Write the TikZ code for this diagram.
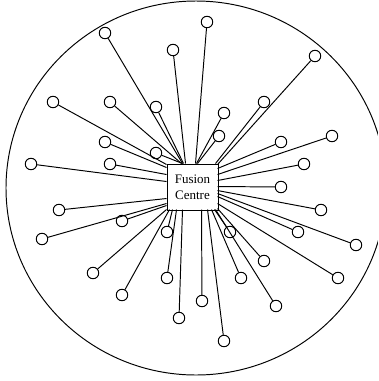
\documentclass[tikz,border=0pt]{standalone}
\usepackage{fontspec}
\setmainfont{Liberation Serif}
\usetikzlibrary{calc}
\tikzset{
  dot/.style={circle,draw,minimum size=2.3mm,inner sep=0pt},
  hub/.style={rectangle,draw,minimum width=10.2mm,minimum height=9.2mm,inner sep=0pt,align=center,font=\fontsize{7.4}{9.3}\selectfont}
}
\newcommand\spoke[3]{\draw (#1) -- ($(fc.north west)+(#2,#3)$);}
\begin{document}
\begin{tikzpicture}[x=0.2mm,y=-0.2mm,line width=0.55pt]
\useasboundingbox (0,0) rectangle (378,381);
\clip (0,0) rectangle (378,381);
\draw (196,188) ellipse [x radius=38mm, y radius=37.4mm];
\node[hub] (fc) at (192.5,187) {Fusion\\Centre};
% top-left
\node[dot] (a1) at (105,33) {};
\node[dot] (a2) at (173,50) {};
\node[dot] (a3) at (156,107) {};
\node[dot] (a4) at (110,102) {};
\node[dot] (a5) at (156,153) {};
\node[dot] (a6) at (53,102) {};
\node[dot] (a7) at (105,142) {};
\node[dot] (a8) at (110,164) {};
\node[dot] (a9) at (31,164) {};
% top-right
\node[dot] (b1) at (207,22) {};
\node[dot] (b2) at (224,113) {};
\node[dot] (b3) at (219,136) {};
\node[dot] (b4) at (264,102) {};
\node[dot] (b5) at (315,56) {};
% right
\node[dot] (c1) at (281,142) {};
\node[dot] (c2) at (332,136) {};
\node[dot] (c3) at (304,164) {};
\node[dot] (c4) at (281,187) {};
\node[dot] (c5) at (321,210) {};
\node[dot] (c6) at (356,245) {};
\node[dot] (c7) at (298,232) {};
\node[dot] (c8) at (338,278) {};
\node[dot] (c9) at (264,261) {};
% bottom
\node[dot] (d1) at (230,232) {};
\node[dot] (d2) at (276,306) {};
\node[dot] (d3) at (241,278) {};
\node[dot] (d4) at (224,341) {};
\node[dot] (d5) at (202,301) {};
\node[dot] (d6) at (179,318) {};
\node[dot] (d7) at (167,278) {};
\node[dot] (d8) at (167,232) {};
\node[dot] (d9) at (122,295) {};
\node[dot] (d10) at (93,273) {};
% left lower
\node[dot] (e1) at (122,221) {};
\node[dot] (e2) at (42,239) {};
\node[dot] (e3) at (59,210) {};
% spokes: offsets from box top-left (167,164)
\spoke{a1}{16}{0}
\spoke{a2}{19}{0}
\spoke{a3}{17}{0}
\spoke{a4}{15}{0}
\spoke{a5}{16}{0}
\spoke{a6}{0}{1}
\spoke{a7}{0}{4}
\spoke{a8}{0}{11}
\spoke{a9}{0}{18}
\spoke{b1}{29}{0}
\spoke{b2}{30}{0}
\spoke{b3}{31}{0}
\spoke{b4}{49}{0}
\spoke{b5}{51}{1}
\spoke{c1}{51}{5}
\spoke{c2}{51}{11}
\spoke{c3}{51}{17}
\spoke{c4}{51}{23}
\spoke{c5}{51}{27}
\spoke{c6}{51}{30}
\spoke{c7}{51}{33}
\spoke{c8}{51}{40}
\spoke{c9}{51}{45}
\spoke{d1}{48}{46}
\spoke{d2}{49}{46}
\spoke{d3}{45}{46}
\spoke{d4}{41}{46}
\spoke{d5}{35}{46}
\spoke{d6}{16}{46}
\spoke{d7}{10}{46}
\spoke{d8}{6}{46}
\spoke{d9}{3}{46}
\spoke{d10}{0}{46}
\spoke{e1}{0}{42}
\spoke{e2}{0}{40}
\spoke{e3}{0}{35}
\end{tikzpicture}
\end{document}
